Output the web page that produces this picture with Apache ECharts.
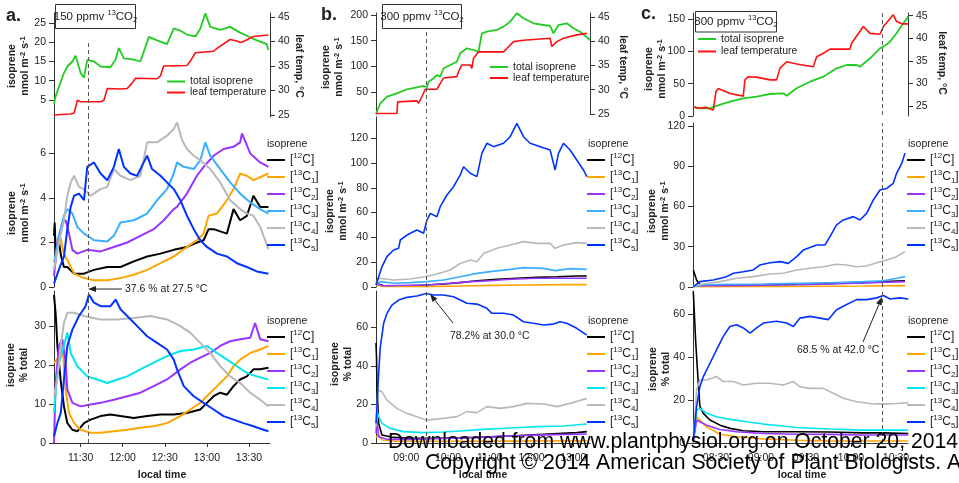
<!DOCTYPE html>
<html>
<head>
<meta charset="utf-8">
<script src="https://cdn.jsdelivr.net/npm/echarts@6/dist/echarts.min.js"></script>
<style>
  html, body { margin: 0; padding: 0; background: #fff; }
  #chart { width: 959px; height: 483px; }
</style>
</head>
<body>
<div id="chart"></div>
<script>
// times are minutes after midnight

// ---- panel a (150 ppmv) ----
const aTicks = [690, 720, 750, 780, 810];
const aTotal = [[671,4],[672.2,6],[674.6,8.5],[678.1,12],[680.5,13.7],[684.1,15],[686.4,16.5],[688.8,13.5],[690,12],[692.4,10.8],[694.7,15.4],[699.5,15],[704.2,13.7],[711.3,13.5],[714.9,15.5],[717.2,18.5],[720.8,15.8],[727.9,15.5],[732.6,15],[736.2,18.8],[738.6,21.4],[744.5,20.5],[751.6,19.5],[756.4,23.6],[761.1,23],[765.8,22],[771.8,21.5],[775.3,23.5],[778.9,27.5],[782.4,24],[789.5,23.2],[796.6,24],[803.7,22.5],[808.5,21.7],[815.6,20.5],[822.7,19.5],[823.9,18]];
const aTemp = [[671,25],[676,25.1],[683,25.2],[685.3,25.4],[686.4,26.5],[687.6,28],[690,27.7],[704.2,27.7],[706.6,28],[709,30.4],[718.4,30.3],[723.2,30.4],[724.3,30.2],[726.7,31.5],[729.1,32.5],[744.5,32.4],[746.9,33],[749.2,35],[765.8,35.1],[768.2,36],[771.8,37.7],[784.8,38],[787.2,38.6],[796.6,40.4],[801.4,40.1],[803.7,39.8],[806.1,40],[813.2,41],[823.9,41.3]];
const aMid12C = [[671,2.3],[671.5,2.9],[672.2,1.6],[674.6,2],[676,1.4],[678.1,0.9],[680.5,0.9],[685.3,0.6],[692.4,0.6],[699.5,0.77],[709,0.9],[718.4,0.9],[727.9,1.15],[737.4,1.37],[746.9,1.5],[756.4,1.67],[765.8,1.8],[772.9,2],[777.7,2.1],[781.2,2.6],[784.8,2.6],[789.5,2.5],[794.3,2.4],[799,3.5],[803.7,3],[808.5,3.2],[813.2,4.1],[818,3.6],[823.9,3.6]];
const aMid13C1 = [[671,0.8],[672.2,1.2],[673.4,1.8],[675.8,2.2],[677,1.8],[678.1,1.5],[681.7,1.07],[685.3,0.6],[692.4,0.4],[699.5,0.3],[709,0.3],[718.4,0.4],[727.9,0.55],[737.4,0.77],[746.9,1.07],[756.4,1.37],[765.8,1.8],[772.9,2.1],[777.7,2.4],[781.2,3.2],[787.2,3.3],[794.3,3.9],[799,4.4],[803.7,5.1],[808.5,5],[813.2,4.8],[820.3,5],[823.9,5.1]];
const aMid13C2 = [[671,0.5],[673.4,2],[677,2.9],[679.3,3],[681.7,2.4],[684.1,1.67],[687.6,1.5],[694.7,1.67],[704.2,1.6],[713.7,1.8],[723.2,2],[732.6,2.3],[742.1,2.6],[749.2,3],[756.4,3.5],[758.7,3.6],[765.8,4.2],[772.9,5],[777.7,5.4],[784.8,5.9],[791.9,6.2],[799,6.3],[803.7,6.5],[805,6.9],[810.9,6],[818,5.6],[823.9,5.4]];
const aMid13C3 = [[671,1.1],[674.6,2.3],[678.1,3.2],[680.5,3.5],[684.1,3.3],[687.6,2.7],[692.4,2.4],[699.5,2.1],[709,2.05],[713.7,2.3],[718.4,2.9],[727.9,3],[737.4,3.3],[744.5,3.9],[751.6,4.4],[756.4,5.1],[758.7,5.6],[763.5,5.4],[770.6,5.3],[775.3,5.7],[778.9,6.5],[782.4,5.9],[789.5,5.3],[796.6,4.7],[803.7,4.2],[810.9,3.8],[818,3.5],[823.9,3.3]];
const aMid13C4 = [[671,0.8],[674.6,2],[678.1,3],[680.5,4.1],[682.9,4.7],[685.3,5],[688.8,4.5],[692.4,4.4],[697.1,4.1],[704.2,4.4],[709,4.5],[713.7,5.3],[718.4,5],[725.5,4.8],[732.6,5],[737.4,6.5],[744.5,6.5],[751.6,6.8],[756.4,7.1],[758.7,7.4],[762.3,6.6],[765.8,6.2],[770.6,5.9],[775.3,5.7],[782.4,5.3],[789.5,4.7],[796.6,3.9],[803.7,3.5],[808.5,3.3],[813.2,3.2],[818,2.7],[823.9,1.7]];
const aMid13C5 = [[671,0.15],[674.6,0.8],[678.1,1.37],[680.5,2.6],[682.9,3.6],[685.3,4.1],[688.8,4.2],[692.4,3.9],[694.7,5.4],[699.5,5.6],[704.2,5.1],[709,4.8],[713.7,5.4],[717.2,6.2],[720.8,5.4],[725.5,5.1],[730.3,5],[735,5.6],[737.4,5.9],[740.9,5.3],[746.9,5],[751.6,4.7],[756.4,4.4],[761.1,3.9],[765.8,3.2],[770.6,2.6],[775.3,2.1],[780,1.8],[787.2,1.5],[794.3,1.37],[801.4,1.07],[808.5,0.9],[815.6,0.7],[823.9,0.6]];
const aPct12C = [[671,38],[672.2,33],[673.4,25],[675.8,16],[678.1,9.4],[680.5,5.1],[684.1,3.4],[687.6,3],[692.4,5.1],[697.1,6],[704.2,6.9],[711.3,7.3],[718.4,6.9],[727.9,6.4],[737.4,6.9],[746.9,7.3],[756.4,7.3],[765.8,7.7],[775.3,8.6],[780,10.3],[784.8,12],[789.5,12.9],[794.3,12.4],[799,14.6],[803.7,16.3],[808.5,17.1],[813.2,18.9],[818,18.9],[823.9,19.3]];
const aPct13C1 = [[671,20.6],[674.6,22],[677,25],[679.3,13.7],[681.7,7.7],[685.3,5.1],[690,3.4],[697.1,2.6],[704.2,2.6],[713.7,3],[723.2,3.4],[732.6,3.9],[742.1,4.3],[751.6,5.1],[761.1,6.9],[768.2,8.6],[775.3,10.3],[780,12],[787.2,14.6],[794.3,17.1],[799,19.7],[803.7,21.4],[810.9,23.1],[818,24],[823.9,24.9]];
const aPct13C2 = [[671,0],[672.2,16],[674.6,25],[677,26.6],[679.3,20.6],[680.5,13.7],[684.1,10.3],[690,9.4],[697.1,9.9],[704.2,10.3],[713.7,11.1],[723.2,12],[732.6,12.9],[742.1,14.6],[751.6,16.3],[761.1,18.9],[768.2,20.6],[775.3,21.9],[782.4,23.1],[789.5,24.9],[796.6,26.1],[803.7,26.6],[810.9,27],[814.4,30.8],[818,26.6],[823.9,26.1]];
const aPct13C3 = [[671,7.7],[672.2,13.7],[674.6,20.6],[678.1,25],[680.5,28.3],[682.9,23.1],[687.6,19.7],[694.7,17.1],[701.8,16.3],[709,15.4],[716.1,16.3],[723.2,17.1],[732.6,18.9],[742.1,20.6],[751.6,22.3],[761.1,23.6],[770.6,24],[780,24.9],[787.2,23.1],[794.3,21.4],[801.4,19.7],[808.5,18],[815.6,17.1],[823.9,16.3]];
const aPct13C4 = [[671,12],[673.4,16.3],[675.8,25],[678.1,30.8],[680.5,33.4],[685.3,33.4],[692.4,32.6],[704.2,31.7],[716.1,31.7],[727.9,32.1],[739.8,32.6],[751.6,31.7],[761.1,30],[768.2,28.3],[775.3,25.7],[782.4,23.1],[789.5,19.7],[796.6,17.1],[803.7,15.4],[810.9,12.9],[818,11.1],[823.9,9.4]];
const aPct13C5 = [[671,1.7],[673.4,5.1],[675.8,7.7],[678.1,16.3],[680.5,24.9],[684.1,29.1],[688.8,32.6],[693.5,35.1],[695.9,38.1],[699.5,36],[704.2,35.1],[711.3,35.1],[714.9,36.8],[718.4,34.3],[723.2,32.6],[730.3,30],[737.4,27.4],[744.5,25.7],[751.6,24],[756.4,21.4],[758.7,18.9],[763.5,14.6],[770.6,12],[777.7,10.3],[784.8,8.6],[791.9,6.9],[799,6],[806.1,5.1],[813.2,4.3],[820.3,3.4],[823.9,3]];

// ---- panel b (300 ppmv) ----
const bTicks = [540, 600, 660, 720, 780];
const bTotal = [[496.5,7.1],[502.7,28],[512.3,40.9],[526.6,47.4],[541,55.3],[555.3,59.2],[564.9,61.7],[569.7,59.2],[572.1,70.1],[579.2,76.7],[584,83.1],[588.8,79.8],[593.6,96.2],[603.2,102.6],[612.7,109],[617.5,125.4],[627.1,135.1],[636.7,131.8],[643.8,128.5],[648.6,164.3],[655.8,167.5],[670.2,170.8],[679.7,177.3],[689.3,187],[698.9,203.3],[708.4,193.6],[722.8,183.8],[737.2,180.5],[746.7,178.6],[751.5,164.3],[758.7,180.5],[770.7,183.8],[780.2,174.1],[789.8,167.5],[804,151.3]];
const bTemp = [[496.5,25.1],[526.6,25.1],[527.6,27.5],[555.3,27.7],[557.7,27.2],[562.5,28.6],[567.3,30.1],[584,30.1],[586.4,29.8],[588.8,31.3],[593.6,32.4],[612.7,32.7],[615.1,33.7],[619.9,35.1],[631.9,35.1],[634.3,34.4],[636.7,36.5],[643.8,37.8],[679.7,37.8],[684.5,38.5],[694.1,39.9],[708.4,40.2],[746.7,40.6],[749.1,38.9],[756.3,39.9],[765.9,40.6],[785,41.3],[799.4,41.6]];
const bMid12C = [[496.5,3],[507.5,1],[545.7,1],[569.7,1.6],[593.6,2.4],[617.5,3.5],[641.5,5.1],[670.2,6.2],[698.9,7],[727.6,7.8],[756.3,8.3],[785,8.9],[799.4,8.9]];
const bMid13C1 = [[496.5,1.6],[507.5,0.5],[569.7,0.3],[617.5,0.8],[665.4,1.3],[713.2,1.6],[761.1,1.9],[799.4,1.9]];
const bMid13C2 = [[496.5,2.4],[507.5,1],[569.7,1.6],[603.2,3],[631.9,4.3],[660.6,5.1],[689.3,6.2],[727.6,7],[756.3,7],[799.4,7]];
const bMid13C3 = [[496.5,2.4],[502.7,4.3],[521.8,3],[545.7,3.5],[569.7,4.3],[593.6,5.6],[617.5,8.3],[641.5,11],[660.6,12.4],[689.3,14.2],[708.4,15.6],[737.2,15],[753.9,13.2],[775.4,14.8],[799.4,14.2]];
const bMid13C4 = [[496.5,3],[500.3,7],[521.8,5.6],[545.7,6.5],[567.3,8.3],[584,10.5],[603.2,13.7],[617.5,19],[631.9,21.8],[641.5,20.4],[651,27],[670.2,31.2],[689.3,33.9],[708.4,36.6],[727.6,35.2],[746.7,35.2],[753.9,31.2],[765.9,33.9],[785,35.8],[799.4,35.2]];
const bMid13C5 = [[496.5,1.6],[500.3,8.3],[505.1,16.4],[512.3,24.5],[521.8,29.8],[529,31.2],[531.4,37.9],[541,41.9],[555.3,46],[564.9,43.3],[569.7,54],[574.5,59.4],[584,56.7],[588.8,64.8],[598.4,74.2],[607.9,80.9],[617.5,90.3],[622.3,97],[631.9,91.7],[641.5,89],[648.6,107.8],[655.8,115.9],[665.4,113.2],[679.7,115.9],[689.3,121.2],[698.9,132],[708.4,121.2],[718,115.9],[732.4,113.2],[746.7,110.5],[753.9,94.4],[758.7,107.8],[765.9,115.9],[775.4,110.5],[785,102.4],[794.6,94.4],[799.4,89]];
const bPct12C = [[496.5,52],[497.2,45],[497.9,30],[500.3,10.2],[505.1,4.2],[521.8,2.9],[545.7,2.4],[593.6,2.6],[641.5,2.9],[689.3,3.6],[737.2,4.5],[785,5.4],[799.4,5.9]];
const bPct13C1 = [[496.5,3],[500.3,4.2],[505.1,1.6],[521.8,1],[593.6,0.9],[689.3,1],[799.4,1.2]];
const bPct13C2 = [[496.5,5],[497.9,12],[500.3,3.3],[512.3,1.9],[545.7,1.9],[593.6,2.4],[641.5,2.9],[689.3,3.6],[737.2,4.2],[799.4,4.7]];
const bPct13C3 = [[496.5,18.9],[500.3,13.7],[505.1,10.2],[517,7.6],[536.2,5.9],[564.9,5.4],[593.6,5.7],[622.3,6.4],[651,7.1],[689.3,7.8],[727.6,8.5],[765.9,8.8],[799.4,9.9]];
const bPct13C4 = [[496.5,8.5],[499.3,27.5],[505.1,26.7],[512.3,22.3],[526.6,18],[541,15.4],[555.3,13.7],[568.7,11.9],[593.6,12.8],[612.7,13.7],[627.1,16.3],[641.5,15.8],[655.8,18.9],[675,18],[694.1,18.9],[713.2,20.6],[737.2,20.3],[756.3,18.9],[775.4,20.6],[799.4,23.2]];
const bPct13C5 = [[496.5,10.2],[497.9,18.9],[500.3,36.2],[502.7,50],[507.5,62.2],[512.3,67.4],[519.4,71.7],[529,74.3],[541,75.7],[555.3,76.4],[568.7,77.7],[579.2,76.9],[593.6,76.9],[607.9,76],[617.5,74.3],[627.1,72.6],[641.5,72.2],[655.8,70],[663,67.4],[679.7,67.4],[694.1,66.5],[708.4,63],[722.8,62.2],[737.2,61.3],[751.5,61.8],[761.1,63],[770.7,62.2],[785,59.6],[799.4,56.1]];

// ---- panel c (800 ppmv) ----
const cTicks = [510, 540, 570, 600, 630];
const cTotal = [[494.9,14.4],[499.3,11.9],[506,11.9],[510.4,15.5],[519.3,22.2],[528.2,27.3],[537.1,29.9],[546,34],[554.9,35.1],[557.1,31.4],[563.8,42.8],[572.7,53],[581.6,60.8],[590.4,73.7],[597.1,78.8],[603.8,78.8],[606,76.2],[612.7,89.2],[619.3,104.7],[621.6,107.2],[626,114.9],[630.4,127.8],[634.9,143.3],[638.2,153.6]];
const cTemp = [[494.9,25],[497.1,24.5],[503.8,24.7],[508.2,24.1],[510,28.2],[511.6,28.9],[519.3,27.8],[528.2,27.2],[529.3,30.8],[531.6,31.5],[537.1,31.4],[546,30.8],[550.4,30.8],[552.7,33.4],[557.1,34.8],[563.8,34.3],[574.9,33.7],[577.1,35.9],[581.6,36.7],[586,37.6],[599.3,37.6],[600.4,38.9],[608.2,42.6],[612.7,41.1],[619.3,40.9],[621.6,42.6],[628.2,45.2],[630.4,43.7],[633.8,43.2],[638.2,43.2]];
const cMid12C = [[494.9,12.7],[497.1,5.2],[499.3,1.5],[519.3,1],[541.6,1.5],[563.8,2],[586,2.7],[608.2,3.2],[621.6,4],[636,4.7]];
const cMid13C1 = [[494.9,0.2],[508.2,0.25],[563.8,0.5],[608.2,0.7],[636,1]];
const cMid13C2 = [[494.9,0.7],[501.6,1],[530.4,1.2],[563.8,1.7],[586,2.2],[608.2,3],[636,4]];
const cMid13C3 = [[494.9,0.2],[501.6,1.7],[519.3,2],[541.6,2.2],[563.8,2.7],[586,3.2],[608.2,4],[621.6,4.7],[630.4,6.5],[636,7.7]];
const cMid13C4 = [[494.9,0.7],[501.6,2.2],[512.7,4],[523.8,6.5],[534.9,7.7],[546,9.7],[554.9,10.2],[563.8,12.7],[572.7,13.9],[581.6,15.1],[590.4,16.9],[597.1,16.4],[603.8,15.1],[610.4,15.6],[617.1,18.1],[623.8,20.1],[630.4,22.6],[636,26.3]];
const cMid13C5 = [[494.9,0.2],[499.3,4],[508.2,5.2],[517.1,7.7],[521.6,10.2],[528.2,11.4],[534.9,12.7],[539.3,16.4],[546,18.1],[552.7,18.9],[558.2,17.6],[563.8,22.6],[568.2,27.5],[577.1,31.3],[582.7,31.3],[586,37.5],[590.4,46.2],[594.9,49.9],[601.6,52.4],[606,49.9],[610.4,54.8],[614.9,64.8],[619.3,72.2],[623.8,73.4],[628.2,77.2],[630.4,84.6],[633.8,92],[636,99.5]];
const cPct12C = [[494.9,70.5],[496.5,47],[498.2,28],[499.3,17],[501.6,13.8],[506,10.7],[512.7,8.3],[519.3,6.8],[528.2,5.7],[541.6,5.2],[563.8,5.2],[586,5.1],[608.2,4.7],[621.6,4.7],[638.2,4.4]];
const cPct13C1 = [[494.9,0.1],[497.1,12.2],[499.3,10.7],[503.8,7.5],[512.7,4.1],[523.8,2.9],[541.6,1.9],[563.8,1.3],[586,1],[638.2,0.9]];
const cPct13C2 = [[494.9,0.5],[497.1,10.7],[499.3,9.9],[503.8,8.3],[512.7,6.3],[523.8,5.2],[541.6,4.4],[563.8,4.1],[586,4],[608.2,3.7],[638.2,3.7]];
const cPct13C3 = [[494.9,1.3],[497.1,15.3],[499.3,16.1],[503.8,13.8],[510.4,12.2],[519.3,11],[530.4,9.9],[541.6,8.8],[552.7,8],[563.8,7.2],[586,6.5],[608.2,6],[638.2,6]];
const cPct13C4 = [[494.9,1.3],[497.1,24.7],[499.3,29.3],[503.8,29.3],[510.4,30.9],[514.9,28.6],[521.6,28.6],[528.2,27],[537.1,27.8],[546,27.8],[554.9,27],[561.6,28.6],[566,26.2],[572.7,25.4],[581.6,25.4],[588.2,23.1],[594.9,20.8],[603.8,19.2],[612.7,18.4],[621.6,18.1],[630.4,18.4],[638.2,18.8]];
const cPct13C5 = [[494.9,1.3],[497.1,16.9],[499.3,26.2],[501.6,30.9],[506,37.1],[510.4,43.3],[514.9,49.6],[519.3,54.2],[523.8,55],[528.2,53.5],[532.7,51.1],[537.1,53.5],[541.6,55.8],[550.4,56.6],[557.1,55.8],[561.6,54.2],[566,58.1],[572.7,58.9],[579.3,58.1],[584.9,57.4],[590.4,62],[597.1,64.4],[603.8,66.7],[610.4,66.7],[617.1,67.5],[621.6,68.6],[626,67],[632.7,67.5],[638.2,67]];

const isoNames = ['12C', '13C1', '13C2', '13C3', '13C4', '13C5'];
const isoLabels = {
  '12C': '[{sup|12}C]', '13C1': '[{sup|13}C{sub|1}]', '13C2': '[{sup|13}C{sub|2}]',
  '13C3': '[{sup|13}C{sub|3}]', '13C4': '[{sup|13}C{sub|4}]', '13C5': '[{sup|13}C{sub|5}]'
};
const midColors = ['#000000', '#ffa500', '#9933ff', '#3aaeff', '#b8b8b8', '#0033ff'];
const pctColors = ['#000000', '#ffa500', '#9933ff', '#00e5ee', '#b8b8b8', '#0033ff'];
const GREEN = '#22cc22', RED = '#ff1111';
const FONT = '"Liberation Sans", Arial, sans-serif';
const INK = '#222';

const cols = [
  { left: 54, width: 216, topH: 104, midTop: 117, x: [671, 825], ticks: aTicks, dash: 695.7,
    topL: [0.58, 27.6], topLT: [5, 10, 15, 20, 25], dashTop: 19.8, topR: [24.6, 45.8],
    midR: [0, 7.64], midT: [0, 2, 4, 6], botR: [0, 39], botT: [0, 10, 20, 30],
    total: aTotal, temp: aTemp, mid: [aMid12C, aMid13C1, aMid13C2, aMid13C3, aMid13C4, aMid13C5],
    pct: [aPct12C, aPct13C1, aPct13C2, aPct13C3, aPct13C4, aPct13C5],
    legLeft: 267, topLeg: { left: 167, top: 76, lh: 10, gap: 0 }, lw: 2 },
  { left: 376, width: 214, topH: 101, midTop: 117, x: [496.5, 804], ticks: bTicks, dash: 568.7,
    topL: [7.1, 203.9], topLT: [50, 100, 150, 200], dashTop: 180.5, topR: [25, 45.8],
    midR: [0, 137.1], midT: [0, 20, 40, 60, 80, 100, 120], botR: [0, 79], botT: [0, 20, 40, 60],
    total: bTotal, temp: bTemp, mid: [bMid12C, bMid13C1, bMid13C2, bMid13C3, bMid13C4, bMid13C5],
    pct: [bPct12C, bPct13C1, bPct13C2, bPct13C3, bPct13C4, bPct13C5],
    legLeft: 587, topLeg: { left: 490, top: 61.5, lh: 11, gap: 0 }, lw: 1.6 },
  { left: 693, width: 215, topH: 103, midTop: 123, x: [494.7, 638], ticks: cTicks, dash: 621,
    topL: [0, 159.2], topLT: [0, 50, 100, 150], dashTop: 159.2, topR: [22.8, 45.6],
    midR: [0, 122.1], midT: [0, 30, 60, 90, 120], botR: [0, 70.7], botT: [0, 20, 40, 60],
    total: cTotal, temp: cTemp, mid: [cMid12C, cMid13C1, cMid13C2, cMid13C3, cMid13C4, cMid13C5],
    pct: [cPct12C, cPct13C1, cPct13C2, cPct13C3, cPct13C4, cPct13C5],
    legLeft: 907, topLeg: { left: 698, top: 33, lh: 12, gap: 0.5 }, lw: 1.6 }
];

function hhmm(v) {
  const h = Math.floor(v / 60), m = Math.round(v % 60);
  return String(h).padStart(2, '0') + ':' + String(m).padStart(2, '0');
}

const axisLineStyle = { color: '#333', width: 1 };
function yAx(grid, range, ticks, pos) {
  return {
    type: 'value', gridIndex: grid, position: pos || 'left', min: range[0], max: range[1],
    axisLine: { show: true, lineStyle: axisLineStyle },
    axisTick: { show: true, length: 5, customValues: ticks, lineStyle: axisLineStyle },
    axisLabel: { customValues: ticks, margin: 8, fontSize: 10.5, color: INK, fontFamily: FONT },
    splitLine: { show: false }
  };
}

const dashStyle = { type: [4, 3], color: '#555', width: 1 };
function dashLine(data) {
  return { silent: true, symbol: ['none', 'none'], animation: false, label: { show: false },
           lineStyle: dashStyle, data: data };
}

const grids = [], xAxes = [], yAxes = [], series = [], legends = [];
const legendRich = {
  sup: { fontSize: 8, verticalAlign: 'top', lineHeight: 16, color: INK, fontFamily: FONT },
  sub: { fontSize: 8, verticalAlign: 'bottom', lineHeight: 16, color: INK, fontFamily: FONT }
};

cols.forEach((c, k) => {
  const gi = k * 3, yi = k * 4;
  grids.push(
    { left: c.left, top: 13, width: c.width, height: c.topH },
    { left: c.left, top: c.midTop, width: c.width, height: 287 - c.midTop },
    { left: c.left, top: 291, width: c.width, height: 152 }
  );
  for (let j = 0; j < 3; j++) {
    const bottom = j === 2;
    xAxes.push({
      type: 'value', gridIndex: gi + j, min: c.x[0], max: c.x[1],
      axisLine: { show: bottom, onZero: false, lineStyle: axisLineStyle },
      axisTick: { show: bottom, length: 4, customValues: c.ticks, lineStyle: axisLineStyle },
      axisLabel: { show: bottom, customValues: c.ticks, formatter: hhmm, margin: 10,
                   fontSize: 10.5, color: INK, fontFamily: FONT },
      splitLine: { show: false }
    });
  }
  yAxes.push(
    yAx(gi, c.topL, c.topLT),
    yAx(gi, c.topR, [25, 30, 35, 40, 45], 'right'),
    yAx(gi + 1, c.midR, c.midT),
    yAx(gi + 2, c.botR, c.botT)
  );
  series.push({
    type: 'line', name: 'total isoprene', data: c.total, xAxisIndex: gi, yAxisIndex: yi,
    showSymbol: false, color: GREEN, lineStyle: { width: 1.8 },
    markLine: dashLine([[{ coord: [c.dash, c.dashTop] }, { coord: [c.dash, c.topL[0]] }]])
  }, {
    type: 'line', name: 'leaf temperature', data: c.temp, xAxisIndex: gi, yAxisIndex: yi + 1,
    showSymbol: false, color: RED, lineStyle: { width: 1.6 }
  });
  c.mid.forEach((d, i) => series.push({
    type: 'line', name: isoNames[i], data: d, xAxisIndex: gi + 1, yAxisIndex: yi + 2,
    showSymbol: false, color: midColors[i], lineStyle: { width: c.lw },
    markLine: i === 5 ? dashLine([{ xAxis: c.dash }]) : undefined
  }));
  c.pct.forEach((d, i) => series.push({
    type: 'line', name: isoNames[i], data: d, xAxisIndex: gi + 2, yAxisIndex: yi + 3,
    showSymbol: false, color: pctColors[i], lineStyle: { width: c.lw },
    markLine: i === 5 ? dashLine([{ xAxis: c.dash }]) : undefined
  }));

  legends.push({
    left: c.topLeg.left, top: c.topLeg.top, orient: 'vertical', padding: 0,
    itemWidth: 18, itemHeight: 2, icon: 'rect', itemGap: c.topLeg.gap,
    selectedMode: false, itemTextGap: 4,
    textStyle: { fontSize: 10.5, lineHeight: c.topLeg.lh, color: INK, fontFamily: FONT },
    data: ['total isoprene', 'leaf temperature']
  });
  [[152, midColors], [329, pctColors]].forEach(([top, colors]) => legends.push({
    left: c.legLeft, top: top, orient: 'vertical', padding: 0, itemGap: 1,
    itemWidth: 18, itemHeight: 2, icon: 'rect', itemTextGap: 4, selectedMode: false,
    formatter: name => isoLabels[name],
    textStyle: { fontSize: 12, lineHeight: 16, color: INK, fontFamily: FONT, rich: legendRich },
    data: isoNames.map((n, i) => ({ name: n, itemStyle: { color: colors[i] } }))
  }));
});

// ---- text decorations ----
const titleRich = {
  sup: { fontSize: 7.5, fontWeight: 'bold', verticalAlign: 'top', lineHeight: 13, fill: INK, fontFamily: FONT }
};
function vtext(x, y, text, rot) {
  return { type: 'text', x: x, y: y, rotation: rot === undefined ? Math.PI / 2 : rot, z: 10,
    style: { text: text, fontSize: 10.5, fontWeight: 'bold', fontFamily: FONT, fill: INK,
             lineHeight: 13, align: 'center', verticalAlign: 'middle',
             textAlign: 'center', textVerticalAlign: 'middle', rich: titleRich } };
}
function htext(x, y, text, opt) {
  opt = opt || {};
  return { type: 'text', x: x, y: y, z: opt.z || 10,
    style: Object.assign({ text: text, fontSize: 10.5, fontFamily: FONT, fill: INK,
      align: 'left', verticalAlign: 'middle', textAlign: 'left', textVerticalAlign: 'middle' }, opt.style || {}) };
}
const boxRich = {
  sup: { fontSize: 7.5, verticalAlign: 'top', lineHeight: 15, fill: INK, fontFamily: FONT },
  sub: { fontSize: 7.5, verticalAlign: 'bottom', lineHeight: 15, fill: INK, fontFamily: FONT }
};
function box(x, y, w, h, label) {
  return [
    { type: 'rect', shape: { x: x, y: y, width: w, height: h }, z: 9,
      style: { fill: '#fff', stroke: '#333', lineWidth: 1 } },
    htext(x + w / 2, y + h / 2, label, { style: { fontSize: 11.5, lineHeight: 15, align: 'center',
      textAlign: 'center', rich: boxRich } })
  ];
}
function arrow(x1, y1, bx, by, tip, p1, p2) {
  return [
    { type: 'line', z: 10, shape: { x1: x1, y1: y1, x2: bx, y2: by }, style: { stroke: '#222', lineWidth: 1 } },
    { type: 'polygon', z: 10, shape: { points: [tip, p1, p2] }, style: { fill: '#222' } }
  ];
}
const nmol = 'isoprene\nnmol m{sup|-2} s{sup|-1}';
const pct = 'isoprene\n% total';

const graphics = [].concat(
  htext(6, 16, 'a.', { style: { fontSize: 18, fontWeight: 'bold' } }),
  htext(321, 15, 'b.', { style: { fontSize: 18, fontWeight: 'bold' } }),
  htext(641, 14, 'c.', { style: { fontSize: 18, fontWeight: 'bold' } }),
  box(55.5, 4.5, 80, 24, '150 ppmv {sup|13}CO{sub|2}'),
  box(382.5, 4.5, 79, 24, '300 ppmv {sup|13}CO{sub|2}'),
  box(695.5, 11.5, 81, 20.5, '800 ppmv {sup|13}CO{sub|2}'),
  vtext(19, 66, nmol), vtext(19, 213, nmol), vtext(18, 365, pct),
  vtext(333, 67, nmol), vtext(337, 211, nmol), vtext(342, 364, pct),
  vtext(656, 69, nmol), vtext(659, 211, nmol), vtext(660, 369, pct),
  vtext(299, 66, 'leaf temp, °C', -Math.PI / 2),
  vtext(623, 67, 'leaf temp, °C', -Math.PI / 2),
  vtext(942, 63, 'leaf temp, °C', -Math.PI / 2),
  htext(267, 144, 'isoprene'), htext(267, 321, 'isoprene'),
  htext(588, 144, 'isoprene'), htext(588, 321, 'isoprene'),
  htext(908, 144, 'isoprene'), htext(908, 321, 'isoprene'),
  htext(162, 475, 'local time', { style: { fontWeight: 'bold', align: 'center', textAlign: 'center' } }),
  htext(483, 475, 'local time', { style: { fontWeight: 'bold', align: 'center', textAlign: 'center' } }),
  htext(802, 475, 'local time', { style: { fontWeight: 'bold', align: 'center', textAlign: 'center' } }),
  htext(125, 289, '37.6 % at 27.5 °C'),
  arrow(122, 289, 96, 289, [88, 289], [96, 286], [96, 292]),
  htext(450, 336, '78.2% at 30.0 °C'),
  arrow(453, 323, 435, 300.3, [430, 294], [437.3, 298.4], [432.6, 302.1]),
  htext(797, 350, '68.5 % at 42.0 °C'),
  arrow(863, 342, 878.9, 304.4, [882, 297], [881.7, 305.6], [876.1, 303.2]),
  htext(388, 442.5, 'Downloaded from www.plantphysiol.org on October 20, 2014 - Published by www.plantphysiol.org',
        { z: 100, style: { fontSize: 21.2, fill: '#000' } }),
  htext(425, 463.5, 'Copyright © 2014 American Society of Plant Biologists. All rights reserved.',
        { z: 100, style: { fontSize: 21.2, fill: '#000' } })
);

const chart = echarts.init(document.getElementById('chart'), null, { renderer: 'canvas' });
chart.setOption({
  animation: false,
  backgroundColor: '#fff',
  textStyle: { fontFamily: FONT },
  grid: grids,
  xAxis: xAxes,
  yAxis: yAxes,
  legend: legends,
  series: series,
  graphic: { elements: graphics }
});
</script>
</body>
</html>
